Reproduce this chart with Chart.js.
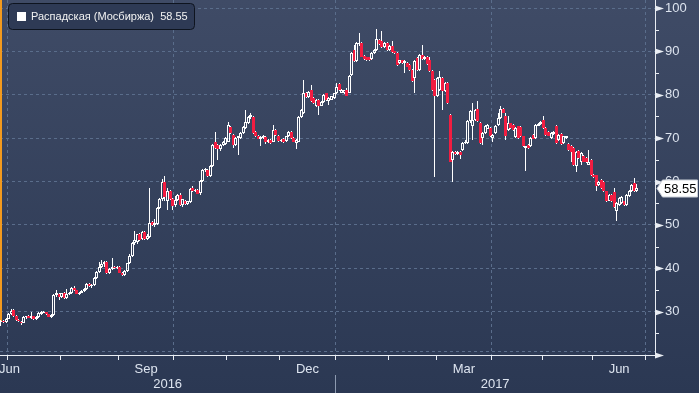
<!DOCTYPE html>
<html><head><meta charset="utf-8">
<script src="https://cdn.jsdelivr.net/npm/chart.js@4.4.1/dist/chart.umd.min.js"></script>
<style>html,body{margin:0;padding:0;background:#2c3955;}#wrap{width:699px;height:393px;position:relative;}</style>
</head><body><div id="wrap"><canvas id="c" width="699" height="393"></canvas></div>
<script>
// ---- data (trading-day index 0 = 1 Jul 2016) ----
const seriesName = 'Распадская (Мосбиржа)';
const firstIndex = -3; // 28 Jun 2016
const opens = [27.6,27.9,27.6,28.4,29.4,30.3,28.9,28.1,27.7,27.4,28.7,29.1,28.6,
28.9,28.2,28.8,29.5,29.9,29.9,29.4,28.8,29.2,33.8,
34.1,33.3,34.3,33.1,34.0,34.3,35.5,34.9,34.1,34.4,
34.7,35.3,36.3,35.8,36.1,37.8,39.1,40.3,40.9,41.4,
39.0,39.9,40.4,40.0,40.3,39.0,38.5,39.3,41.1,42.9,
45.8,46.0,47.8,46.7,48.3,46.8,47.2,50.6,50.0,50.3,
54.0,55.9,60.0,55.5,57.8,56.0,54.6,55.8,57.0,54.6,
55.6,54.7,55.2,58.6,57.8,58.0,57.3,60.1,62.6,62.7,
61.2,63.5,69.2,68.5,67.4,68.5,68.7,69.2,72.6,70.8,
68.5,70.0,70.0,71.1,72.3,73.4,74.9,74.9,71.5,70.5,
69.7,70.0,70.2,69.0,69.6,69.2,71.9,70.6,69.4,69.8,
69.3,70.4,71.5,70.0,68.9,69.2,74.9,75.7,80.3,79.5,
81.0,79.2,77.3,78.8,77.5,78.4,80.3,78.5,78.9,79.3,
80.4,82.5,80.5,80.4,81.1,80.5,84.6,90.4,87.7,91.6,
91.9,89.0,88.6,88.6,88.2,89.6,90.4,92.7,92.3,91.0,
91.9,90.4,91.3,90.0,89.6,87.3,87.9,87.3,87.3,86.9,
85.7,83.9,88.4,85.7,89.1,88.2,88.8,88.0,85.4,83.5,
79.6,81.1,83.9,80.8,82.7,75.4,64.9,66.9,66.3,66.9,
67.3,68.9,68.9,73.9,72.7,74.2,76.7,73.5,70.0,71.2,
72.2,72.4,70.0,71.1,73.0,74.6,76.7,75.0,71.9,73.4,
73.0,70.2,72.7,72.6,70.4,67.7,68.5,68.1,70.8,70.0,
72.9,73.2,74.2,72.3,71.5,70.0,70.9,72.9,69.6,70.9,
68.8,70.0,68.6,68.3,67.7,63.5,67.1,64.6,65.8,65.4,
63.9,65.0,61.6,61.4,59.2,60.4,59.9,57.7,55.6,57.0,
57.5,53.3,54.6,55.0,55.4,54.6,56.6,57.7,59.6,57.7];
const highs = [28.0,28.1,28.6,29.6,30.6,30.5,29.2,28.4,27.9,28.9,29.1,29.3,29.9,
29.0,28.9,29.8,30.1,30.2,30.0,29.5,29.5,34.1,34.9,
34.3,34.4,34.5,35.3,34.6,35.7,35.8,35.1,34.6,34.9,
35.4,36.6,36.5,36.3,38.0,39.3,41.4,41.9,41.6,41.6,
40.1,42.4,40.6,40.6,40.5,39.2,39.5,41.3,43.2,46.0,
48.5,48.0,48.1,48.6,48.5,47.8,58.6,50.9,51.4,54.2,
56.2,60.5,61.2,58.4,58.0,56.2,56.6,57.2,57.3,56.0,
55.7,55.6,58.4,59.0,58.3,58.2,60.3,62.8,63.2,62.9,
63.7,68.7,71.5,68.7,68.7,69.4,70.2,73.8,72.8,71.0,
70.2,70.6,71.3,72.8,76.5,75.2,75.7,75.1,71.7,70.7,
70.4,70.7,70.4,69.8,69.8,73.0,72.1,70.8,69.9,70.0,
70.6,71.7,71.7,70.2,69.8,75.1,76.7,83.4,80.6,80.9,
82.3,79.4,79.0,79.0,78.6,80.1,80.5,79.4,79.8,80.5,
82.7,82.7,81.3,81.2,81.5,84.6,89.8,91.5,92.1,94.2,
92.1,89.2,88.8,88.8,89.9,90.6,95.1,92.9,94.8,92.1,
92.1,91.5,92.3,90.2,89.8,88.1,88.1,87.9,87.5,87.1,
85.9,87.9,88.6,89.3,91.5,89.0,89.0,88.6,85.6,83.7,
84.1,85.4,84.1,82.9,82.9,75.6,67.1,67.1,67.1,67.1,
69.1,69.5,74.1,76.4,78.1,76.6,78.5,73.7,71.4,73.1,
73.2,72.6,71.0,73.1,75.8,77.3,76.9,75.8,75.0,73.6,
73.2,72.5,72.9,72.8,70.6,68.3,68.7,70.3,71.0,73.3,
73.5,74.0,75.0,72.5,71.7,71.3,71.7,73.1,71.0,71.1,
70.6,70.6,68.8,68.5,67.9,67.1,67.3,66.7,66.0,65.6,
67.3,65.2,61.8,61.6,60.2,60.6,60.1,57.9,57.2,57.2,
58.4,55.2,56.5,56.7,55.6,57.1,58.0,59.4,60.8,59.5];
const lows = [26.8,27.3,27.4,28.2,29.2,28.7,27.9,27.5,26.9,27.3,28.4,28.5,28.4,
28.1,28.0,28.6,29.3,29.6,29.3,28.7,28.5,29.0,33.3,
32.6,33.1,32.9,33.0,33.8,34.1,34.8,34.0,33.9,34.2,
34.5,35.1,35.6,35.5,35.9,37.5,38.8,40.0,40.4,38.7,
38.7,39.6,39.8,39.8,38.8,38.2,38.3,39.1,40.9,42.7,
45.4,45.7,46.3,46.5,46.5,46.4,47.0,49.8,49.6,50.0,
53.6,55.6,55.5,53.4,55.8,53.4,54.2,55.5,54.3,54.1,
54.6,54.5,55.0,57.6,57.5,57.1,57.0,59.8,62.3,61.0,
61.0,63.3,67.5,65.0,67.1,68.2,68.4,69.0,70.9,67.7,
68.3,66.2,69.8,70.9,72.1,73.2,74.5,70.9,70.3,69.7,
68.2,69.8,68.7,68.8,68.6,69.0,70.6,69.1,69.2,68.9,
69.1,70.2,69.8,69.0,67.6,69.0,74.6,75.5,79.3,79.3,
78.4,77.9,77.1,75.3,77.3,78.2,78.6,77.7,78.7,79.1,
80.2,80.8,80.3,80.2,79.6,80.3,84.4,87.5,87.5,91.3,
88.6,88.0,87.7,87.8,88.0,89.4,90.2,91.4,90.8,90.8,
90.2,90.2,89.6,89.4,86.7,87.1,87.1,85.0,86.3,85.5,
82.9,80.4,85.5,85.5,88.0,88.0,86.9,85.2,80.9,61.0,
79.4,80.9,76.5,80.6,77.9,64.4,60.0,66.1,66.1,65.3,
67.1,68.6,68.7,73.6,69.6,74.0,73.7,68.7,68.4,71.0,
72.0,70.2,69.0,70.9,72.8,74.4,75.7,69.5,71.7,72.1,
71.7,70.0,69.8,70.2,67.9,62.5,67.5,67.9,69.7,69.8,
72.7,73.0,72.1,70.6,70.4,69.8,70.7,68.6,69.4,68.4,
68.6,69.8,67.1,64.6,63.5,62.3,65.2,63.9,64.4,64.3,
63.7,61.2,60.8,57.7,59.0,58.3,57.5,55.2,55.4,55.3,
53.9,50.8,54.4,54.8,54.4,54.4,56.4,57.5,57.6,57.5];
const closes = [27.8,27.5,28.4,29.4,30.2,28.9,28.1,27.8,27.3,28.7,28.9,28.6,28.9,
28.3,28.8,29.6,29.9,30.0,29.4,28.8,29.3,33.8,34.2,
33.4,34.2,33.1,34.0,34.3,35.5,34.9,34.1,34.4,34.7,
35.3,36.4,35.8,36.1,37.8,39.1,40.3,40.9,41.4,38.9,
39.9,40.4,40.0,40.4,39.0,38.5,39.3,41.1,42.9,45.8,
46.4,47.8,46.5,48.3,46.7,47.4,50.5,50.0,50.4,54.0,
55.9,60.0,56.5,57.8,56.0,54.4,55.8,57.0,54.6,55.9,
54.8,55.4,58.2,57.8,58.1,57.2,60.1,62.6,62.8,61.2,
63.5,68.5,67.7,67.5,68.5,69.2,70.0,73.0,71.1,68.5,
70.0,70.4,71.1,72.6,73.8,74.9,75.4,71.1,70.5,69.9,
70.3,70.5,69.0,69.6,68.8,71.9,70.8,69.3,69.6,69.1,
70.4,71.5,70.0,69.2,69.6,74.9,76.5,80.3,79.5,80.6,
78.6,78.1,78.8,77.3,78.4,79.9,78.8,79.2,79.6,80.3,
81.9,81.0,81.1,81.0,79.8,84.4,89.6,87.7,91.9,92.0,
88.8,88.2,87.9,88.0,89.7,90.4,92.9,91.6,91.0,91.9,
90.4,91.3,89.8,89.6,86.9,87.9,87.3,87.7,86.5,85.7,
83.1,87.7,85.7,89.1,88.2,88.8,87.1,85.4,81.1,79.6,
83.9,84.2,80.8,82.7,78.1,64.6,66.9,66.3,66.9,66.1,
68.9,69.0,73.9,76.2,74.2,76.4,73.9,68.9,71.2,72.7,
73.0,70.4,70.8,72.9,74.6,76.7,75.9,70.6,73.4,72.3,
71.9,72.3,70.0,70.4,68.1,68.1,67.7,70.1,69.9,73.1,
73.3,73.8,72.3,70.8,70.6,71.1,71.5,68.8,70.8,68.6,
70.4,70.4,67.3,66.9,63.7,66.9,65.4,66.5,64.6,64.5,
64.6,61.4,61.0,58.9,60.0,58.5,57.7,55.4,57.0,55.5,
54.2,55.0,56.3,56.5,54.6,56.9,57.8,59.2,57.8,58.55];
// trading days per month, Jul 2016 .. Jun 2017
const monthTradingDays = [21,23,22,21,21,22,21,19,22,20,20,21];
// labelled months (index into month list; -1 = Jun 2016, before first boundary)
const axisMonthLabels = ['Jun','Sep','Dec','Mar','Jun'];
const axisMonthIdx = [-1,2,5,8,11];
const yearLabels = ['2016','2017'];
const yMajorTicks = [20,30,40,50,60,70,80,90,100];
const yMinorTicks = [25,35,45,55,65,75,85,95];

// ---- derived ----
const RED = '#f21d41', GRID = '#5a6d8b', AXIS = '#e9edf3', LABEL = '#dde4ef';
const N = Math.min(opens.length, highs.length, lows.length, closes.length);
const boundaries = [-0.5];
monthTradingDays.forEach(d => boundaries.push(boundaries[boundaries.length-1] + d));
const quarterBounds = boundaries.filter((b,k) => k % 3 === 0);
const bodies = [], upW = [], loW = [];
for (let k = 0; k < N; k++) {
  const x = firstIndex + k, o = opens[k], c = closes[k];
  const top = Math.max(o,c), bot = Math.min(o,c);
  bodies.push({x, y:[bot, top], up: c >= o});
  upW.push({x, y:[top, highs[k]]});
  loW.push({x, y:[lows[k], bot]});
}
const lastClose = closes[N-1];

function rrect(ctx, x, y, w, h, r) {
  ctx.beginPath();
  ctx.moveTo(x+r, y); ctx.lineTo(x+w-r, y); ctx.quadraticCurveTo(x+w, y, x+w, y+r);
  ctx.lineTo(x+w, y+h-r); ctx.quadraticCurveTo(x+w, y+h, x+w-r, y+h);
  ctx.lineTo(x+r, y+h); ctx.quadraticCurveTo(x, y+h, x, y+h-r);
  ctx.lineTo(x, y+r); ctx.quadraticCurveTo(x, y, x+r, y); ctx.closePath();
}

const deco = {
  id: 'deco',
  beforeDraw(chart) {
    const {ctx, width, height} = chart;
    const g = ctx.createLinearGradient(0, 0, 0, height);
    g.addColorStop(0, '#3f4b66'); g.addColorStop(1, '#2b3853');
    ctx.save(); ctx.fillStyle = g; ctx.fillRect(0, 0, width, height); ctx.restore();
  },
  beforeDatasetsDraw(chart) {
    chart.data.datasets.forEach((ds, di) => {
      const meta = chart.getDatasetMeta(di);
      meta.data.forEach(el => {
        el.x = Math.floor(el.x) + 0.5;
        const t = Math.round(Math.min(el.y, el.base));
        let b = Math.round(Math.max(el.y, el.base));
        if (di === 2 && b - t < 1) b = t + 1;
        el.y = t; el.base = b;
      });
    });
    const {ctx, chartArea} = chart;
    const ys = chart.scales.y;
    ctx.save();
    // dashed guide just above the x axis
    ctx.strokeStyle = GRID; ctx.lineWidth = 1; ctx.setLineDash([3,3]);
    ctx.beginPath(); ctx.moveTo(chartArea.left, chartArea.bottom - 3.5); ctx.lineTo(chartArea.right, chartArea.bottom - 3.5); ctx.stroke();
    ctx.setLineDash([]);
    // orange start marker
    ctx.fillStyle = '#f39a1e';
    ctx.fillRect(0, 0, 2, Math.round(ys.getPixelForValue(closes[0])));
    ctx.restore();
  },
  afterDraw(chart) {
    const {ctx, chartArea} = chart;
    const xs = chart.scales.x, ys = chart.scales.y;
    const ax = chartArea.right;
    ctx.save();
    // y axis tick markers
    ctx.fillStyle = AXIS; ctx.strokeStyle = AXIS; ctx.lineWidth = 1;
    yMajorTicks.forEach(v => {
      const y = Math.round(ys.getPixelForValue(v)) + 0.5;
      ctx.beginPath(); ctx.moveTo(ax, y - 3); ctx.lineTo(ax + 9, y); ctx.lineTo(ax, y + 3); ctx.closePath(); ctx.fill();
    });
    yMinorTicks.forEach(v => {
      const y = Math.round(ys.getPixelForValue(v)) + 0.5;
      ctx.beginPath(); ctx.moveTo(ax, y); ctx.lineTo(ax + 4, y); ctx.stroke();
    });
    // month labels
    ctx.fillStyle = LABEL; ctx.font = '13px "Liberation Sans", Arial, sans-serif'; ctx.textBaseline = 'middle';
    axisMonthLabels.forEach((lab, k) => {
      const m = axisMonthIdx[k];
      if (m < 0) { ctx.textAlign = 'left'; ctx.fillText(lab, -1, 369); return; }
      const cx = xs.getPixelForValue((boundaries[m] + boundaries[m+1]) / 2);
      ctx.textAlign = 'center'; ctx.fillText(lab, cx, 369);
    });
    // year labels and separator
    const jan = xs.getPixelForValue(boundaries[6]);
    ctx.textAlign = 'center';
    ctx.fillText(yearLabels[0], (chartArea.left + jan) / 2, 384);
    ctx.fillText(yearLabels[1], (jan + chartArea.right) / 2, 384);
    ctx.strokeStyle = '#8d9ab0';
    ctx.beginPath(); ctx.moveTo(Math.round(jan) + 0.5, 375); ctx.lineTo(Math.round(jan) + 0.5, 393); ctx.stroke();
    // legend
    rrect(ctx, 8.5, 3.5, 186, 26, 4);
    ctx.fillStyle = '#2e3a55'; ctx.fill();
    ctx.strokeStyle = '#0e141f'; ctx.stroke();
    ctx.fillStyle = '#ffffff'; ctx.fillRect(17, 12, 9, 9);
    ctx.font = '11px "Liberation Sans", Arial, sans-serif'; ctx.textAlign = 'left'; ctx.fillStyle = '#f2f2f2';
    ctx.fillText(seriesName + '  ' + lastClose.toFixed(2), 31, 17);
    // last price tag
    const py = Math.round(ys.getPixelForValue(lastClose)) + 0.5;
    ctx.beginPath();
    ctx.moveTo(657, py); ctx.lineTo(662.5, py - 8.5); ctx.lineTo(697.5, py - 8.5); ctx.lineTo(697.5, py + 8.5); ctx.lineTo(662.5, py + 8.5); ctx.closePath();
    ctx.fillStyle = '#ffffff'; ctx.fill(); ctx.strokeStyle = '#c9ced6'; ctx.stroke();
    ctx.fillStyle = '#000000'; ctx.font = '13px "Liberation Sans", Arial, sans-serif';
    ctx.fillText(lastClose.toFixed(2), 664, py + 0.5);
    if (N !== 253) { ctx.fillStyle = 'yellow'; ctx.fillText('N=' + N + ' ' + opens.length + ' ' + highs.length + ' ' + lows.length + ' ' + closes.length, 250, 20); }
    ctx.restore();
  }
};

new Chart(document.getElementById('c'), {
  type: 'bar',
  data: { datasets: [
    { data: loW, backgroundColor: '#ffffff', borderWidth: 0, barThickness: 1, grouped: false, order: 3 },
    { data: upW, backgroundColor: '#ffffff', borderWidth: 0, barThickness: 1, grouped: false, order: 2 },
    { data: bodies, grouped: false, order: 1, barThickness: 3, borderSkipped: false, inflateAmount: 0,
      backgroundColor: c => (c.raw && c.raw.up) ? 'rgba(0,0,0,0)' : RED,
      borderColor: c => (c.raw && c.raw.up) ? '#ffffff' : RED,
      borderWidth: c => (c.raw && c.raw.up) ? 1 : 0 }
  ]},
  options: {
    responsive: false, animation: false, devicePixelRatio: 1, events: [],
    layout: { padding: 0 },
    plugins: { legend: { display: false }, tooltip: { enabled: false } },
    datasets: { bar: { inflateAmount: 0 } },
    scales: {
      x: {
        type: 'linear', position: 'bottom', offset: false, min: -3.393, max: 256.22,
        afterBuildTicks: s => { s.ticks = boundaries.map(v => ({ value: v })); },
        afterFit: s => { s.height = 38; s.paddingLeft = 0; s.paddingRight = 0; },
        ticks: { display: false },
        grid: { offset: false, drawTicks: true, tickLength: 5, tickColor: AXIS, tickWidth: 1, lineWidth: 1,
          color: c => (c.tick && quarterBounds.includes(c.tick.value)) ? GRID : 'rgba(0,0,0,0)' },
        border: { display: true, color: AXIS, width: 1, dash: [3,3] }
      },
      y: {
        type: 'linear', position: 'right', min: 20, max: 101.845, beginAtZero: false,
        afterBuildTicks: s => { const t = []; for (let v = 20; v <= 100; v += 5) t.push({ value: v }); s.ticks = t; },
        afterFit: s => { s.width = 44; s.paddingTop = 0; s.paddingBottom = 0; },
        ticks: { autoSkip: false, padding: 10, color: LABEL, font: { family: '"Liberation Sans", Arial, sans-serif', size: 13 },
          callback: v => (v % 10 === 0 && v >= 30) ? String(v) : '' },
        grid: { drawTicks: false, lineWidth: 1,
          color: c => (c.tick && c.tick.value % 10 === 0 && c.tick.value > 20) ? GRID : 'rgba(0,0,0,0)' },
        border: { display: true, color: AXIS, width: 1, dash: [3,3] }
      }
    }
  },
  plugins: [deco]
});
</script>
</body></html>
